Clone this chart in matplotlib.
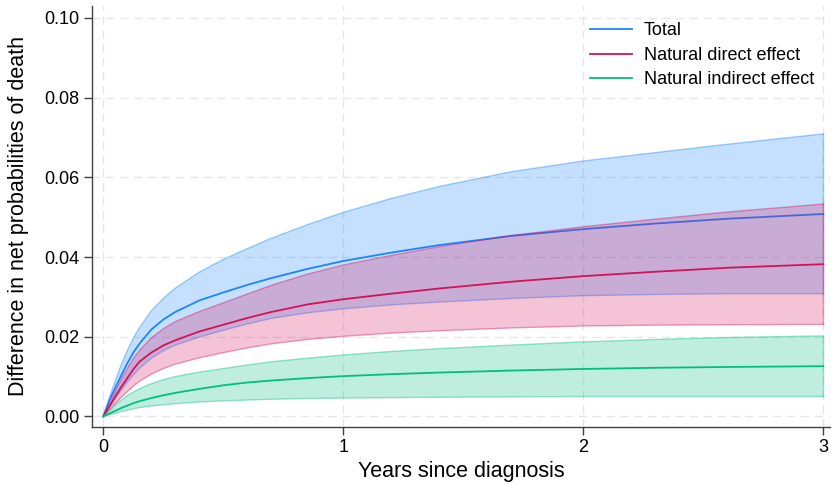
import numpy as np
import matplotlib
matplotlib.use("Agg")
from matplotlib import pyplot as plt

plt.rcParams['font.family'] = ['Liberation Sans', 'DejaVu Sans']

# Data -----------------------------------------------------------------------
years = [0, 0.025, 0.05, 0.075, 0.1, 0.125, 0.15, 0.2, 0.25, 0.3, 0.4, 0.5,
         0.6, 0.7, 0.85, 1.0, 1.2, 1.4, 1.7, 2.0, 2.3, 2.6, 3.0]

# Total
tot_mean = [0, 0.0040, 0.0072, 0.0103, 0.0133, 0.0160, 0.0182, 0.0218,
            0.0243, 0.0262, 0.0291, 0.0311, 0.0330, 0.0347, 0.0370, 0.0390,
            0.0411, 0.0430, 0.0453, 0.0470, 0.0484, 0.0496, 0.0508]
tot_lo   = [0, 0.0022, 0.0045, 0.0066, 0.0086, 0.0104, 0.0120, 0.0146,
            0.0165, 0.0179, 0.0199, 0.0216, 0.0232, 0.0246, 0.0260, 0.0270,
            0.0280, 0.0287, 0.0296, 0.0303, 0.0306, 0.0308, 0.0308]
tot_hi   = [0, 0.0046, 0.0090, 0.0130, 0.0165, 0.0196, 0.0222, 0.0265,
            0.0296, 0.0322, 0.0362, 0.0394, 0.0421, 0.0447, 0.0481, 0.0512,
            0.0547, 0.0577, 0.0614, 0.0641, 0.0662, 0.0683, 0.0709]

# Natural direct effect
nde_mean = [0, 0.0025, 0.0050, 0.0074, 0.0096, 0.0118, 0.0137, 0.0160,
            0.0178, 0.0191, 0.0213, 0.0230, 0.0247, 0.0262, 0.0281, 0.0294,
            0.0308, 0.0321, 0.0338, 0.0352, 0.0363, 0.0373, 0.0382]
nde_lo   = [0, 0.0016, 0.0032, 0.0048, 0.0062, 0.0076, 0.0088, 0.0106,
            0.0120, 0.0131, 0.0147, 0.0160, 0.0172, 0.0182, 0.0193, 0.0201,
            0.0209, 0.0215, 0.0222, 0.0227, 0.0229, 0.0230, 0.0231]
nde_hi   = [0, 0.0032, 0.0063, 0.0093, 0.0120, 0.0145, 0.0165, 0.0197,
            0.0220, 0.0238, 0.0263, 0.0285, 0.0307, 0.0329, 0.0357, 0.0380,
            0.0404, 0.0426, 0.0454, 0.0476, 0.0495, 0.0513, 0.0533]

# Natural indirect effect
nie_mean = [0, 0.0007, 0.0014, 0.0021, 0.0027, 0.0033, 0.0038, 0.0046,
            0.0053, 0.0059, 0.0069, 0.0078, 0.0085, 0.0090, 0.0096, 0.0101,
            0.0106, 0.0110, 0.0115, 0.0119, 0.0122, 0.0124, 0.0126]
nie_lo   = [0, 0.0004, 0.0008, 0.0012, 0.0016, 0.0019, 0.0022, 0.0026,
            0.0029, 0.0032, 0.0036, 0.0039, 0.0041, 0.0043, 0.0045, 0.0046,
            0.0047, 0.0048, 0.0049, 0.0050, 0.0050, 0.0050, 0.0050]
nie_hi   = [0, 0.0014, 0.0028, 0.0041, 0.0052, 0.0061, 0.0069, 0.0082,
            0.0092, 0.0100, 0.0111, 0.0120, 0.0129, 0.0137, 0.0146, 0.0154,
            0.0163, 0.0170, 0.0179, 0.0187, 0.0193, 0.0198, 0.0202]

labels = ['Total', 'Natural direct effect', 'Natural indirect effect']
colors = ['#1a85ff', '#d41159', '#00bf7f']

# Figure ---------------------------------------------------------------------
fig = plt.figure(figsize=(8.32, 4.84), dpi=100)
ax = fig.add_axes([0.1106, 0.1178, 0.887, 0.8698])

series = [(tot_lo, tot_hi, tot_mean), (nde_lo, nde_hi, nde_mean),
          (nie_lo, nie_hi, nie_mean)]
z = 2
for (lo, hi, mn), col, lab in zip(series, colors, labels):
    ax.fill_between(years, lo, hi, facecolor=col, alpha=0.25, lw=0, zorder=z)
    ax.plot(years, lo, color=col, alpha=0.4, lw=1.0, zorder=z)
    ax.plot(years, hi, color=col, alpha=0.4, lw=1.0, zorder=z)
    ax.plot([years[-1], years[-1]], [lo[-1], hi[-1]], color=col, alpha=0.4,
            lw=1.0, zorder=z)
    ax.plot(years, mn, color=col, lw=1.3, label=lab, zorder=z + 1)
    z += 2

ax.set_xlim(-0.047, 3.028)
ax.set_ylim(-0.00266, 0.103)
ax.set_xticks([0, 1, 2, 3])
ax.set_yticks(np.arange(0, 0.101, 0.02))
ax.set_yticklabels(['%.2f' % v for v in np.arange(0, 0.101, 0.02)])
ax.tick_params(axis='both', labelsize=13, length=6, width=1, color='#404040',
               direction='out')
ax.tick_params(axis='x', pad=3)
ax.tick_params(axis='y', pad=3)

ax.grid(True, color='#e6e6e6', ls=(0, (6, 4)), lw=1.0, zorder=0)
ax.set_axisbelow(True)

for s in ['top', 'right']:
    ax.spines[s].set_visible(False)
for s in ['left', 'bottom']:
    ax.spines[s].set_color('#404040')
    ax.spines[s].set_linewidth(1.0)

ax.set_xlabel('Years since diagnosis', fontsize=15.5, labelpad=3)
ax.set_ylabel('Difference in net probabilities of death', fontsize=15.5,
              labelpad=11)

leg = ax.legend(loc='upper right', frameon=False, fontsize=13,
                handlelength=2.3, handletextpad=0.65, labelspacing=0.42,
                bbox_to_anchor=(1.0, 1.0))

fig.savefig('out.png', dpi=100, facecolor='white')
